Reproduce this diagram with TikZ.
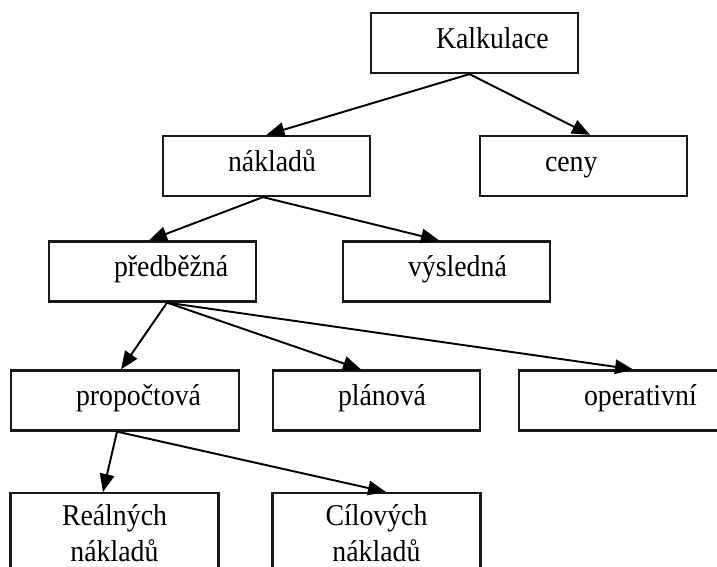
\documentclass[tikz,border=0pt]{standalone}
\usepackage{fontspec}
\setmainfont{Liberation Serif}[FakeStretch=0.92]
\usepackage{tikz}
\usetikzlibrary{arrows.meta}
\tikzset{
  box/.style={rectangle, draw=black!90, line width=1.3pt, inner xsep=0pt,
              text width=4.14cm, minimum height=1.2cm, align=left,
              text height=0.7em, text depth=0.1em,
              execute at begin node={\noindent\hspace*{1.3cm}},
              font=\fontsize{17.2pt}{21pt}\selectfont},
  twobox/.style={rectangle, draw=black!90, line width=1.3pt, anchor=north,
                 minimum width=4.16cm, inner ysep=0.22cm, align=center,
                 font=\fontsize{17.2pt}{20.5pt}\selectfont},
  arrow/.style={-{Triangle[length=0.36cm, width=0.29cm]}, line width=1.1pt, draw=black}
}
\begin{document}
\begin{tikzpicture}[x=0.02cm, y=-0.02cm]
\useasboundingbox (0,0) rectangle (717,567);
\clip (0,0) rectangle (717,567);
% tree of boxes
\node[box] (kalk) at (474.5,43) {Kalkulace};
\node[box] (naklady) at (266.5,166) {nákladů};
\node[box] (ceny) at (583.5,166) {ceny};
\node[box] (predbezna) at (152.5,271.5) {předběžná};
\node[box] (vysledna) at (446.5,271.5) {výsledná};
\node[box, text width=4.56cm] (propoctova) at (125,400.5) {propočtová};
\node[box] (planova) at (376.5,400.5) {plánová};
\node[box] (operativni) at (622.5,400.5) {operativní};
\node[twobox] (realne) at (114.5,492) {Reálných\\nákladů};
\node[twobox] (cilove) at (376.5,492) {Cílových\\nákladů};

\draw[arrow] ([xshift=-0.1cm]kalk.south) -- (naklady.north);
\draw[arrow] ([xshift=-0.1cm]kalk.south) -- ([xshift=0.13cm]ceny.north);
\draw[arrow] ([xshift=-0.07cm]naklady.south) -- ([xshift=-0.07cm]predbezna.north);
\draw[arrow] ([xshift=-0.07cm]naklady.south) -- ([xshift=-0.15cm]vysledna.north);
\draw[arrow] ([xshift=0.29cm]predbezna.south) -- ([xshift=-0.08cm]propoctova.north);
\draw[arrow] ([xshift=0.29cm]predbezna.south) -- ([xshift=-0.31cm]planova.north);
\draw[arrow] ([xshift=0.29cm]predbezna.south) -- ([xshift=0.21cm]operativni.north);
\draw[arrow] ([xshift=-0.16cm]propoctova.south) -- ([xshift=-0.23cm]realne.north);
\draw[arrow] ([xshift=-0.16cm]propoctova.south) -- ([xshift=0.19cm]cilove.north);
\end{tikzpicture}
\end{document}
